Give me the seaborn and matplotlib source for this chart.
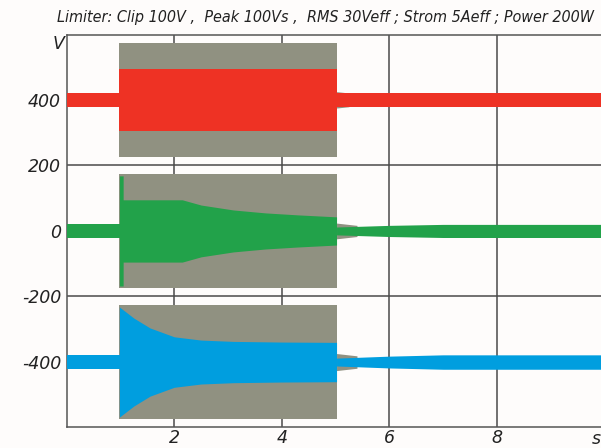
import numpy as np
import pandas as pd
import seaborn as sns
import matplotlib.pyplot as plt
from matplotlib import font_manager

# ---------------- data ----------------
title_text = 'Limiter: Clip 100V ,  Peak 100Vs ,  RMS 30Veff ; Strom 5Aeff ; Power 200W'
y_ticks = [400, 200, 0, -200, -400]
x_ticks = [2, 4, 6, 8]

offsets = {'red': 400, 'green': 0, 'blue': -400}
colors = {'red': '#ee3224', 'green': '#22a24a', 'blue': '#009edf'}
gray = '#909181'

# signal before the burst (t < 1 s)
pre_t = [0.0, 1.0]
pre_amp = [21, 21]

# the grey burst envelope (unlimited signal)
burst_t = [0.98, 5.02]
burst_amp = [173, 173]

# limited signal envelopes during the burst
red_t = [0.98, 5.02]
red_amp = [95, 95]
green_t = [0.98, 1.05, 1.05, 2.15, 2.5, 3.1, 3.7, 4.3, 5.02]
green_amp = [168, 168, 95, 95, 79, 64, 55, 49, 43]
blue_t = [0.98, 1.25, 1.55, 2.0, 2.5, 3.1, 4.0, 5.02]
blue_amp = [168, 134, 104, 77, 67, 63, 61, 60]

# after the burst (t > 5 s)
tail_t = {'red': [5.02, 5.25], 'green': [5.02, 5.4], 'blue': [5.02, 5.4]}
tail_amp = {'red': [25, 21], 'green': [24, 17], 'blue': [26, 19]}
post_t = {'red': [5.02, 10.0], 'green': [5.02, 6.0, 7.0, 10.0], 'blue': [5.02, 6.0, 7.0, 10.0]}
post_amp = {'red': [21, 21], 'green': [12, 17, 20, 20], 'blue': [12, 18, 22, 22]}

during = {'red': (red_t, red_amp), 'green': (green_t, green_amp), 'blue': (blue_t, blue_amp)}

# ---------------- styling ----------------
sns.set_theme(style='white')
plt.rcParams['font.family'] = ['DejaVu Sans']
plt.rcParams['axes.unicode_minus'] = False

# narrow face for the title if one is installed
title_font = ['DejaVu Sans']
title_stretch = 'normal'
for f in font_manager.fontManager.ttflist:
    if f.name == 'Liberation Sans Narrow':
        title_font = ['Liberation Sans Narrow', 'DejaVu Sans']
        break
    if f.name == 'DejaVu Sans' and f.stretch == 'condensed':
        title_stretch = 'condensed'

bg = '#fefcfb'
fig = plt.figure(figsize=(6.01, 4.48), dpi=100, facecolor=bg)
ax = fig.add_axes([0.111, 0.047, 0.889, 0.875])
ax.set_facecolor(bg)


def band(t, amp, off, color, z):
    t = np.asarray(t, dtype=float)
    amp = np.asarray(amp, dtype=float)
    ax.fill_between(t, off - amp, off + amp, color=color, lw=0, zorder=z)


for key, off in offsets.items():
    band(pre_t, pre_amp, off, colors[key], 3)
    band(burst_t, burst_amp, off, gray, 2)
    band(*during[key], off, colors[key], 3)
    band(tail_t[key], tail_amp[key], off, gray, 2)
    band(post_t[key], post_amp[key], off, colors[key], 3)

ax.set_xlim(0, 9.94)
ax.set_ylim(-598, 598)
ax.set_xticks(x_ticks)
ax.set_yticks(y_ticks)
ax.grid(True, color='#4a4a4a', lw=1.1, zorder=0)
ax.set_axisbelow(True)
ax.tick_params(axis='y', length=0, pad=4, labelsize=12.5, colors='#222222')
ax.tick_params(axis='x', length=0, pad=1.5, labelsize=12.5, colors='#222222')
for lab in ax.get_xticklabels() + ax.get_yticklabels():
    lab.set_fontstyle('italic')

for side in ['left', 'bottom', 'top']:
    ax.spines[side].set_color('#555555')
    ax.spines[side].set_linewidth(1.1)
ax.spines['right'].set_visible(False)

ttl = fig.text(0.095, 0.96, title_text, ha='left', va='center', fontsize=12.5,
               style='italic', family=title_font, stretch=title_stretch, color='#222222')
# squeeze the title to span the same width as in the original (x 57..598 px)
fig.canvas.draw()
w = ttl.get_window_extent().width
ttl.set_fontsize(12.5 * 540.0 / w)

fig.text(0.098, 0.902, 'V', ha='center', va='center', fontsize=12.5,
         style='italic', color='#222222')
fig.text(0.993, 0.02, 's', ha='center', va='center', fontsize=12.5,
         style='italic', color='#222222')

fig.savefig('out.png', dpi=100, facecolor=bg)
